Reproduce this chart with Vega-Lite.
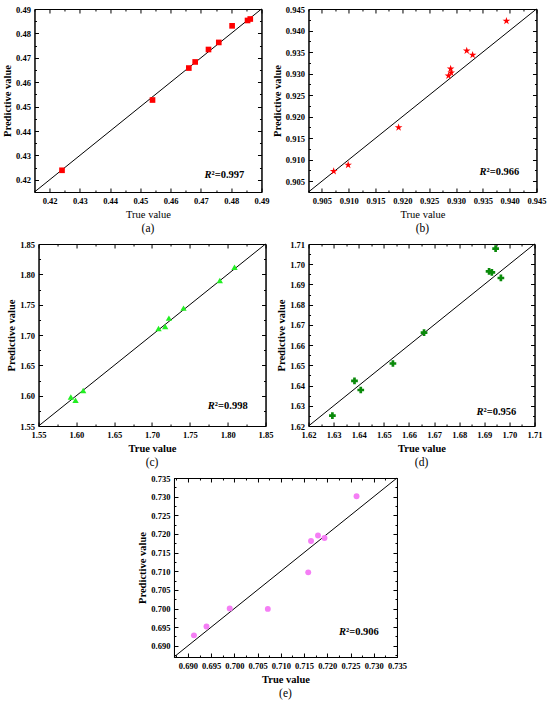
{
  "$schema": "https://vega.github.io/schema/vega-lite/v6.json",
  "background": "white",
  "padding": {"left": 2, "top": 4, "right": 1, "bottom": 2},
  "config": {
    "view": {"stroke": "black", "strokeWidth": 1},
    "axis": {
      "labelFont": "Liberation Serif", "labelFontSize": 8.5, "labelFontWeight": "bold", "labelColor": "black",
      "titleFont": "Liberation Serif", "titleFontSize": 10.5, "titleFontWeight": "bold", "titleColor": "black",
      "domainColor": "black", "tickColor": "black", "tickWidth": 1, "grid": false,
      "labelFlush": false, "labelOverlap": false, "labelPadding": 8, "titlePadding": 3
    },
    "title": {"font": "Liberation Serif", "fontSize": 11.5, "fontWeight": "normal", "color": "black"}
  },
  "vconcat": [
    {
      "hconcat": [
        {
          "width": 227, "height": 183,
          "title": {"text": "(a)", "orient": "bottom", "frame": "group", "offset": 3},
          "data": {"values": [
            {"true_value": 0.4241, "predictive_value": 0.4239},
            {"true_value": 0.4540, "predictive_value": 0.4527},
            {"true_value": 0.4660, "predictive_value": 0.4658},
            {"true_value": 0.4681, "predictive_value": 0.4683},
            {"true_value": 0.4725, "predictive_value": 0.4734},
            {"true_value": 0.4759, "predictive_value": 0.4763},
            {"true_value": 0.4803, "predictive_value": 0.4831},
            {"true_value": 0.4854, "predictive_value": 0.4853},
            {"true_value": 0.4863, "predictive_value": 0.4859}
          ]},
          "layer": [
            {
              "data": {"values": [{}]},
              "mark": {"type": "rule", "color": "black", "strokeWidth": 1},
              "encoding": {
                "x": {"datum": 0.415, "type": "quantitative", "scale": {"domain": [0.415, 0.49], "nice": false, "zero": false},
                  "axis": {"orient": "top", "labels": false, "title": null, "values": [0.415,0.42,0.425,0.43,0.435,0.44,0.445,0.45,0.455,0.46,0.465,0.47,0.475,0.48,0.485,0.49],
                    "tickSize": {"condition": {"test": "round(datum.value*200)%2==1", "value": -2}, "value": -4}}},
                "y": {"datum": 0.415, "type": "quantitative", "scale": {"domain": [0.415, 0.49], "nice": false, "zero": false},
                  "axis": {"orient": "right", "labels": false, "title": null, "values": [0.415,0.42,0.425,0.43,0.435,0.44,0.445,0.45,0.455,0.46,0.465,0.47,0.475,0.48,0.485,0.49],
                    "tickSize": {"condition": {"test": "round(datum.value*200)%2==1", "value": -2}, "value": -4}}},
                "x2": {"datum": 0.49},
                "y2": {"datum": 0.49}
              }
            },
            {
              "mark": {"type": "point", "shape": "square", "filled": true, "color": "#ff0000", "opacity": 1, "size": 32},
              "encoding": {
                "x": {"field": "true_value", "type": "quantitative", "scale": {"domain": [0.415, 0.49], "nice": false, "zero": false},
                  "axis": {"orient": "bottom", "title": "True value", "titleFontWeight": "normal", "values": [0.415,0.42,0.425,0.43,0.435,0.44,0.445,0.45,0.455,0.46,0.465,0.47,0.475,0.48,0.485,0.49],
                    "labelExpr": "round(datum.value*200)%2==1 ? '' : format(datum.value, '.2f')",
                    "tickSize": {"condition": {"test": "round(datum.value*200)%2==1", "value": -2}, "value": -4}}},
                "y": {"field": "predictive_value", "type": "quantitative", "scale": {"domain": [0.415, 0.49], "nice": false, "zero": false},
                  "axis": {"orient": "left", "title": "Predictive value", "values": [0.415,0.42,0.425,0.43,0.435,0.44,0.445,0.45,0.455,0.46,0.465,0.47,0.475,0.48,0.485,0.49],
                    "labelExpr": "round(datum.value*200)%2==1 ? '' : format(datum.value, '.2f')",
                    "tickSize": {"condition": {"test": "round(datum.value*200)%2==1", "value": -2}, "value": -4}}}
              }
            },
            {
              "data": {"values": [{}]},
              "mark": {"type": "text", "text": "R", "font": "Liberation Serif", "fontSize": 10.5, "fontWeight": "bold", "fontStyle": "italic", "align": "left", "baseline": "middle", "color": "black"},
              "encoding": {"x": {"datum": 0.4712, "type": "quantitative", "axis": null}, "y": {"datum": 0.4219, "type": "quantitative", "axis": null}}
            },
            {
              "data": {"values": [{}]},
              "mark": {"type": "text", "text": "²=0.997", "font": "Liberation Serif", "fontSize": 10.5, "fontWeight": "bold", "align": "left", "baseline": "middle", "dx": 7, "color": "black"},
              "encoding": {"x": {"datum": 0.4712, "type": "quantitative", "axis": null}, "y": {"datum": 0.4219, "type": "quantitative", "axis": null}}
            }
          ],
          "resolve": {"axis": {"x": "independent", "y": "independent"}}
        },
        {
          "width": 228, "height": 183,
          "title": {"text": "(b)", "orient": "bottom", "frame": "group", "offset": 3},
          "data": {"values": [
            {"true_value": 0.9072, "predictive_value": 0.9073},
            {"true_value": 0.9099, "predictive_value": 0.9088},
            {"true_value": 0.9193, "predictive_value": 0.9175},
            {"true_value": 0.9286, "predictive_value": 0.9295},
            {"true_value": 0.9290, "predictive_value": 0.9311},
            {"true_value": 0.9291, "predictive_value": 0.9302},
            {"true_value": 0.9320, "predictive_value": 0.9353},
            {"true_value": 0.9331, "predictive_value": 0.9343},
            {"true_value": 0.9394, "predictive_value": 0.9422}
          ]},
          "layer": [
            {
              "data": {"values": [{}]},
              "mark": {"type": "rule", "color": "black", "strokeWidth": 1},
              "encoding": {
                "x": {"datum": 0.9025, "type": "quantitative", "scale": {"domain": [0.9025, 0.945], "nice": false, "zero": false},
                  "axis": {"orient": "top", "labels": false, "title": null, "values": [0.9025,0.905,0.9075,0.91,0.9125,0.915,0.9175,0.92,0.9225,0.925,0.9275,0.93,0.9325,0.935,0.9375,0.94,0.9425,0.945],
                    "tickSize": {"condition": {"test": "round(datum.value*400)%2==1", "value": -2}, "value": -4}}},
                "y": {"datum": 0.9025, "type": "quantitative", "scale": {"domain": [0.9025, 0.945], "nice": false, "zero": false},
                  "axis": {"orient": "right", "labels": false, "title": null, "values": [0.9025,0.905,0.9075,0.91,0.9125,0.915,0.9175,0.92,0.9225,0.925,0.9275,0.93,0.9325,0.935,0.9375,0.94,0.9425,0.945],
                    "tickSize": {"condition": {"test": "round(datum.value*400)%2==1", "value": -2}, "value": -4}}},
                "x2": {"datum": 0.945},
                "y2": {"datum": 0.945}
              }
            },
            {
              "mark": {"type": "point", "shape": "M0,-1L0.2245,-0.309L0.951,-0.309L0.363,0.118L0.588,0.809L0,0.382L-0.588,0.809L-0.363,0.118L-0.951,-0.309L-0.2245,-0.309Z", "filled": true, "color": "#ff0000", "opacity": 1, "size": 65},
              "encoding": {
                "x": {"field": "true_value", "type": "quantitative", "scale": {"domain": [0.9025, 0.945], "nice": false, "zero": false},
                  "axis": {"orient": "bottom", "title": "True value", "titleFontWeight": "normal", "values": [0.9025,0.905,0.9075,0.91,0.9125,0.915,0.9175,0.92,0.9225,0.925,0.9275,0.93,0.9325,0.935,0.9375,0.94,0.9425,0.945],
                    "labelExpr": "round(datum.value*400)%2==1 ? '' : format(datum.value, '.3f')",
                    "tickSize": {"condition": {"test": "round(datum.value*400)%2==1", "value": -2}, "value": -4}}},
                "y": {"field": "predictive_value", "type": "quantitative", "scale": {"domain": [0.9025, 0.945], "nice": false, "zero": false},
                  "axis": {"orient": "left", "title": "Predictive value", "values": [0.9025,0.905,0.9075,0.91,0.9125,0.915,0.9175,0.92,0.9225,0.925,0.9275,0.93,0.9325,0.935,0.9375,0.94,0.9425,0.945],
                    "labelExpr": "round(datum.value*400)%2==1 ? '' : format(datum.value, '.3f')",
                    "tickSize": {"condition": {"test": "round(datum.value*400)%2==1", "value": -2}, "value": -4}}}
              }
            },
            {
              "data": {"values": [{}]},
              "mark": {"type": "text", "text": "R", "font": "Liberation Serif", "fontSize": 10.5, "fontWeight": "bold", "fontStyle": "italic", "align": "left", "baseline": "middle", "color": "black"},
              "encoding": {"x": {"datum": 0.9344, "type": "quantitative", "axis": null}, "y": {"datum": 0.9071, "type": "quantitative", "axis": null}}
            },
            {
              "data": {"values": [{}]},
              "mark": {"type": "text", "text": "²=0.966", "font": "Liberation Serif", "fontSize": 10.5, "fontWeight": "bold", "align": "left", "baseline": "middle", "dx": 7, "color": "black"},
              "encoding": {"x": {"datum": 0.9344, "type": "quantitative", "axis": null}, "y": {"datum": 0.9071, "type": "quantitative", "axis": null}}
            }
          ],
          "resolve": {"axis": {"x": "independent", "y": "independent"}}
        }
      ],
      "spacing": 2
    },
    {
      "hconcat": [
        {
          "width": 227, "height": 182,
          "title": {"text": "(c)", "orient": "bottom", "frame": "group", "offset": 3},
          "data": {"values": [
            {"true_value": 1.5927, "predictive_value": 1.5979},
            {"true_value": 1.5989, "predictive_value": 1.5924},
            {"true_value": 1.6090, "predictive_value": 1.6084},
            {"true_value": 1.7086, "predictive_value": 1.7108},
            {"true_value": 1.7174, "predictive_value": 1.7141},
            {"true_value": 1.7223, "predictive_value": 1.7278},
            {"true_value": 1.7416, "predictive_value": 1.7443},
            {"true_value": 1.7896, "predictive_value": 1.7900},
            {"true_value": 1.8090, "predictive_value": 1.8115}
          ]},
          "layer": [
            {
              "data": {"values": [{}]},
              "mark": {"type": "rule", "color": "black", "strokeWidth": 1},
              "encoding": {
                "x": {"datum": 1.55, "type": "quantitative", "scale": {"domain": [1.55, 1.85], "nice": false, "zero": false},
                  "axis": {"orient": "top", "labels": false, "title": null, "values": [1.55,1.575,1.6,1.625,1.65,1.675,1.7,1.725,1.75,1.775,1.8,1.825,1.85],
                    "tickSize": {"condition": {"test": "round(datum.value*40)%2==1", "value": -2}, "value": -4}}},
                "y": {"datum": 1.55, "type": "quantitative", "scale": {"domain": [1.55, 1.85], "nice": false, "zero": false},
                  "axis": {"orient": "right", "labels": false, "title": null, "values": [1.55,1.575,1.6,1.625,1.65,1.675,1.7,1.725,1.75,1.775,1.8,1.825,1.85],
                    "tickSize": {"condition": {"test": "round(datum.value*40)%2==1", "value": -2}, "value": -4}}},
                "x2": {"datum": 1.85},
                "y2": {"datum": 1.85}
              }
            },
            {
              "mark": {"type": "point", "shape": "triangle-up", "filled": true, "color": "#22ee22", "opacity": 1, "size": 40},
              "encoding": {
                "x": {"field": "true_value", "type": "quantitative", "scale": {"domain": [1.55, 1.85], "nice": false, "zero": false},
                  "axis": {"orient": "bottom", "title": "True value", "values": [1.55,1.575,1.6,1.625,1.65,1.675,1.7,1.725,1.75,1.775,1.8,1.825,1.85],
                    "labelExpr": "round(datum.value*40)%2==1 ? '' : format(datum.value, '.2f')",
                    "tickSize": {"condition": {"test": "round(datum.value*40)%2==1", "value": -2}, "value": -4}}},
                "y": {"field": "predictive_value", "type": "quantitative", "scale": {"domain": [1.55, 1.85], "nice": false, "zero": false},
                  "axis": {"orient": "left", "title": "Predictive value", "values": [1.55,1.575,1.6,1.625,1.65,1.675,1.7,1.725,1.75,1.775,1.8,1.825,1.85],
                    "labelExpr": "round(datum.value*40)%2==1 ? '' : format(datum.value, '.2f')",
                    "tickSize": {"condition": {"test": "round(datum.value*40)%2==1", "value": -2}, "value": -4}}}
              }
            },
            {
              "data": {"values": [{}]},
              "mark": {"type": "text", "text": "R", "font": "Liberation Serif", "fontSize": 10.5, "fontWeight": "bold", "fontStyle": "italic", "align": "left", "baseline": "middle", "color": "black"},
              "encoding": {"x": {"datum": 1.7738, "type": "quantitative", "axis": null}, "y": {"datum": 1.583, "type": "quantitative", "axis": null}}
            },
            {
              "data": {"values": [{}]},
              "mark": {"type": "text", "text": "²=0.998", "font": "Liberation Serif", "fontSize": 10.5, "fontWeight": "bold", "align": "left", "baseline": "middle", "dx": 7, "color": "black"},
              "encoding": {"x": {"datum": 1.7738, "type": "quantitative", "axis": null}, "y": {"datum": 1.583, "type": "quantitative", "axis": null}}
            }
          ],
          "resolve": {"axis": {"x": "independent", "y": "independent"}}
        },
        {
          "width": 226, "height": 182,
          "title": {"text": "(d)", "orient": "bottom", "frame": "group", "offset": 3},
          "data": {"values": [
            {"true_value": 1.6295, "predictive_value": 1.6251},
            {"true_value": 1.6383, "predictive_value": 1.6423},
            {"true_value": 1.6408, "predictive_value": 1.6378},
            {"true_value": 1.6536, "predictive_value": 1.6509},
            {"true_value": 1.6660, "predictive_value": 1.6662},
            {"true_value": 1.6919, "predictive_value": 1.6965},
            {"true_value": 1.6930, "predictive_value": 1.6960},
            {"true_value": 1.6945, "predictive_value": 1.7077},
            {"true_value": 1.6966, "predictive_value": 1.6932}
          ]},
          "layer": [
            {
              "data": {"values": [{}]},
              "mark": {"type": "rule", "color": "black", "strokeWidth": 1},
              "encoding": {
                "x": {"datum": 1.62, "type": "quantitative", "scale": {"domain": [1.62, 1.71], "nice": false, "zero": false},
                  "axis": {"orient": "top", "labels": false, "title": null, "values": [1.62,1.625,1.63,1.635,1.64,1.645,1.65,1.655,1.66,1.665,1.67,1.675,1.68,1.685,1.69,1.695,1.7,1.705,1.71],
                    "tickSize": {"condition": {"test": "round(datum.value*200)%2==1", "value": -2}, "value": -4}}},
                "y": {"datum": 1.62, "type": "quantitative", "scale": {"domain": [1.62, 1.71], "nice": false, "zero": false},
                  "axis": {"orient": "right", "labels": false, "title": null, "values": [1.62,1.625,1.63,1.635,1.64,1.645,1.65,1.655,1.66,1.665,1.67,1.675,1.68,1.685,1.69,1.695,1.7,1.705,1.71],
                    "tickSize": {"condition": {"test": "round(datum.value*200)%2==1", "value": -2}, "value": -4}}},
                "x2": {"datum": 1.71},
                "y2": {"datum": 1.71}
              }
            },
            {
              "mark": {"type": "point", "shape": "cross", "filled": true, "color": "#0a8a0a", "opacity": 1, "size": 45},
              "encoding": {
                "x": {"field": "true_value", "type": "quantitative", "scale": {"domain": [1.62, 1.71], "nice": false, "zero": false},
                  "axis": {"orient": "bottom", "title": "True value", "values": [1.62,1.625,1.63,1.635,1.64,1.645,1.65,1.655,1.66,1.665,1.67,1.675,1.68,1.685,1.69,1.695,1.7,1.705,1.71],
                    "labelExpr": "round(datum.value*200)%2==1 ? '' : format(datum.value, '.2f')",
                    "tickSize": {"condition": {"test": "round(datum.value*200)%2==1", "value": -2}, "value": -4}}},
                "y": {"field": "predictive_value", "type": "quantitative", "scale": {"domain": [1.62, 1.71], "nice": false, "zero": false},
                  "axis": {"orient": "left", "title": "Predictive value", "values": [1.62,1.625,1.63,1.635,1.64,1.645,1.65,1.655,1.66,1.665,1.67,1.675,1.68,1.685,1.69,1.695,1.7,1.705,1.71],
                    "labelExpr": "round(datum.value*200)%2==1 ? '' : format(datum.value, '.2f')",
                    "tickSize": {"condition": {"test": "round(datum.value*200)%2==1", "value": -2}, "value": -4}}}
              }
            },
            {
              "data": {"values": [{}]},
              "mark": {"type": "text", "text": "R", "font": "Liberation Serif", "fontSize": 10.5, "fontWeight": "bold", "fontStyle": "italic", "align": "left", "baseline": "middle", "color": "black"},
              "encoding": {"x": {"datum": 1.6869, "type": "quantitative", "axis": null}, "y": {"datum": 1.6271, "type": "quantitative", "axis": null}}
            },
            {
              "data": {"values": [{}]},
              "mark": {"type": "text", "text": "²=0.956", "font": "Liberation Serif", "fontSize": 10.5, "fontWeight": "bold", "align": "left", "baseline": "middle", "dx": 7, "color": "black"},
              "encoding": {"x": {"datum": 1.6869, "type": "quantitative", "axis": null}, "y": {"datum": 1.6271, "type": "quantitative", "axis": null}}
            }
          ],
          "resolve": {"axis": {"x": "independent", "y": "independent"}}
        }
      ],
      "spacing": 2
    },
    {
      "width": 223, "height": 179,
      "title": {"text": "(e)", "orient": "bottom", "frame": "group", "offset": 3},
      "data": {"values": [
        {"true_value": 0.6913, "predictive_value": 0.6928},
        {"true_value": 0.6940, "predictive_value": 0.6952},
        {"true_value": 0.6990, "predictive_value": 0.7000},
        {"true_value": 0.7072, "predictive_value": 0.6999},
        {"true_value": 0.7159, "predictive_value": 0.7097},
        {"true_value": 0.7165, "predictive_value": 0.7181},
        {"true_value": 0.7180, "predictive_value": 0.7196},
        {"true_value": 0.7194, "predictive_value": 0.7189},
        {"true_value": 0.7263, "predictive_value": 0.7301}
      ]},
      "layer": [
        {
          "data": {"values": [{}]},
          "mark": {"type": "rule", "color": "black", "strokeWidth": 1},
          "encoding": {
            "x": {"datum": 0.687, "type": "quantitative", "scale": {"domain": [0.687, 0.735], "nice": false, "zero": false},
              "axis": {"orient": "top", "labels": false, "title": null, "values": [0.6875,0.69,0.6925,0.695,0.6975,0.7,0.7025,0.705,0.7075,0.71,0.7125,0.715,0.7175,0.72,0.7225,0.725,0.7275,0.73,0.7325,0.735],
                "tickSize": {"condition": {"test": "round(datum.value*400)%2==1", "value": -2}, "value": -4}}},
            "y": {"datum": 0.687, "type": "quantitative", "scale": {"domain": [0.687, 0.735], "nice": false, "zero": false},
              "axis": {"orient": "right", "labels": false, "title": null, "values": [0.6875,0.69,0.6925,0.695,0.6975,0.7,0.7025,0.705,0.7075,0.71,0.7125,0.715,0.7175,0.72,0.7225,0.725,0.7275,0.73,0.7325,0.735],
                "tickSize": {"condition": {"test": "round(datum.value*400)%2==1", "value": -2}, "value": -4}}},
            "x2": {"datum": 0.735},
            "y2": {"datum": 0.735}
          }
        },
        {
          "mark": {"type": "point", "shape": "circle", "filled": true, "color": "#f57ef5", "opacity": 1, "size": 35},
          "encoding": {
            "x": {"field": "true_value", "type": "quantitative", "scale": {"domain": [0.687, 0.735], "nice": false, "zero": false},
              "axis": {"orient": "bottom", "title": "True value", "values": [0.6875,0.69,0.6925,0.695,0.6975,0.7,0.7025,0.705,0.7075,0.71,0.7125,0.715,0.7175,0.72,0.7225,0.725,0.7275,0.73,0.7325,0.735],
                "labelExpr": "round(datum.value*400)%2==1 ? '' : format(datum.value, '.3f')",
                "tickSize": {"condition": {"test": "round(datum.value*400)%2==1", "value": -2}, "value": -4}}},
            "y": {"field": "predictive_value", "type": "quantitative", "scale": {"domain": [0.687, 0.735], "nice": false, "zero": false},
              "axis": {"orient": "left", "title": "Predictive value", "values": [0.6875,0.69,0.6925,0.695,0.6975,0.7,0.7025,0.705,0.7075,0.71,0.7125,0.715,0.7175,0.72,0.7225,0.725,0.7275,0.73,0.7325,0.735],
                "labelExpr": "round(datum.value*400)%2==1 ? '' : format(datum.value, '.3f')",
                "tickSize": {"condition": {"test": "round(datum.value*400)%2==1", "value": -2}, "value": -4}}}
          }
        },
        {
          "data": {"values": [{}]},
          "mark": {"type": "text", "text": "R", "font": "Liberation Serif", "fontSize": 10.5, "fontWeight": "bold", "fontStyle": "italic", "align": "left", "baseline": "middle", "color": "black"},
          "encoding": {"x": {"datum": 0.72254, "type": "quantitative", "axis": null}, "y": {"datum": 0.69374, "type": "quantitative", "axis": null}}
        },
        {
          "data": {"values": [{}]},
          "mark": {"type": "text", "text": "²=0.906", "font": "Liberation Serif", "fontSize": 10.5, "fontWeight": "bold", "align": "left", "baseline": "middle", "dx": 7, "color": "black"},
          "encoding": {"x": {"datum": 0.72254, "type": "quantitative", "axis": null}, "y": {"datum": 0.69374, "type": "quantitative", "axis": null}}
        }
      ],
      "resolve": {"axis": {"x": "independent", "y": "independent"}}
    }
  ],
  "spacing": 4,
  "center": true
}
